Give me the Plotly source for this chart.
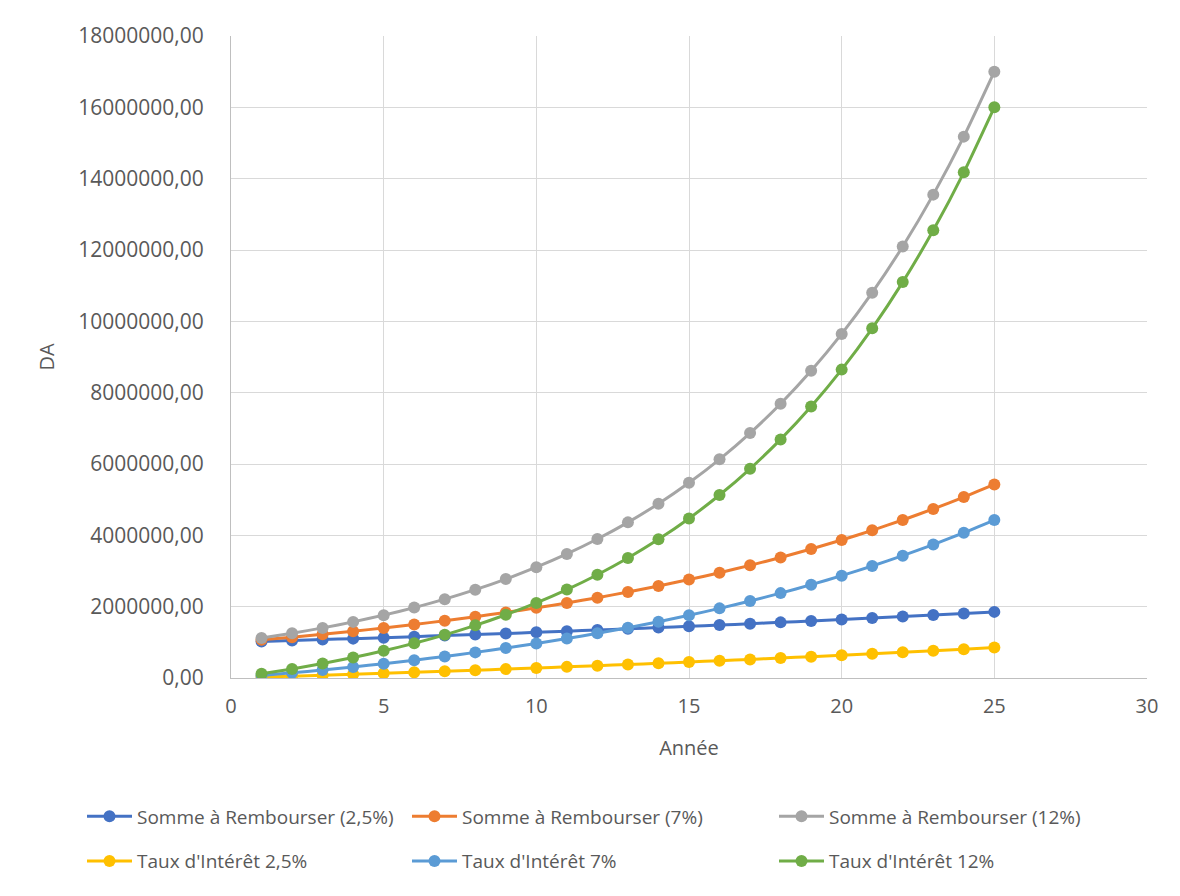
import plotly.graph_objects as go

annees = list(range(1, 26))

somme_2_5 = [1025000, 1050625, 1076891, 1103813, 1131408, 1159693, 1188686, 1218403, 1248863, 1280085,
             1312087, 1344889, 1378511, 1412974, 1448298, 1484506, 1521618, 1559659, 1598650, 1638616,
             1679582, 1721571, 1764611, 1808726, 1853944]
somme_7 = [1070000, 1144900, 1225043, 1310796, 1402552, 1500730, 1605781, 1718186, 1838459, 1967151,
           2104852, 2252192, 2409845, 2578534, 2759032, 2952164, 3158815, 3379932, 3616528, 3869684,
           4140562, 4430402, 4740530, 5072367, 5427433]
somme_12 = [1120000, 1254400, 1404928, 1573519, 1762342, 1973823, 2210681, 2475963, 2773079, 3105848,
            3478550, 3895976, 4363493, 4887112, 5473566, 6130394, 6866041, 7689966, 8612762, 9646293,
            10803848, 12100310, 13552347, 15178629, 17000064]
interet_2_5 = [25000, 50625, 76891, 103813, 131408, 159693, 188686, 218403, 248863, 280085,
               312087, 344889, 378511, 412974, 448298, 484506, 521618, 559659, 598650, 638616,
               679582, 721571, 764611, 808726, 853944]
interet_7 = [70000, 144900, 225043, 310796, 402552, 500730, 605781, 718186, 838459, 967151,
             1104852, 1252192, 1409845, 1578534, 1759032, 1952164, 2158815, 2379932, 2616528, 2869684,
             3140562, 3430402, 3740530, 4072367, 4427433]
interet_12 = [120000, 254400, 404928, 573519, 762342, 973823, 1210681, 1475963, 1773079, 2105848,
              2478550, 2895976, 3363493, 3887112, 4473566, 5130394, 5866041, 6689966, 7612762, 8646293,
              9803848, 11100310, 12552347, 14178629, 16000064]

y_tickvals = [0, 2000000, 4000000, 6000000, 8000000, 10000000, 12000000, 14000000, 16000000, 18000000]
y_ticktext = ["0,00", "2000000,00", "4000000,00", "6000000,00", "8000000,00", "10000000,00",
              "12000000,00", "14000000,00", "16000000,00", "18000000,00"]
x_tickvals = [0, 5, 10, 15, 20, 25, 30]

series = [
    ("Somme à Rembourser (2,5%)", somme_2_5, "#4472C4", "legend"),
    ("Somme à Rembourser (7%)", somme_7, "#ED7D31", "legend2"),
    ("Somme à Rembourser (12%)", somme_12, "#A5A5A5", "legend3"),
    ("Taux d'Intérêt 2,5%", interet_2_5, "#FFC000", "legend"),
    ("Taux d'Intérêt 7%", interet_7, "#5B9BD5", "legend2"),
    ("Taux d'Intérêt 12%", interet_12, "#70AD47", "legend3"),
]

FONT = "Open Sans"
TXT = "#595959"

fig = go.Figure()
for name, vals, col, lg in series:
    fig.add_trace(go.Scatter(
        x=annees, y=vals, name=name, mode="lines+markers",
        line=dict(color=col, width=3, shape="spline", smoothing=0.6),
        marker=dict(color=col, size=12),
        legend=lg, legendgroup=name,
    ))

OFF = 8  # page body margin
W, H = 1180, 896
L, T = 231 - OFF, 36 - OFF
pw, ph = 1147 - 231, 678 - 36
R, B = W - L - pw, H - T - ph

def px_x(p):
    return (p - OFF - L) / pw

def px_y(p):
    return (T + ph - (p - OFF)) / ph

legend_common = dict(
    orientation="v", xanchor="left", yanchor="middle",
    font=dict(family=FONT, size=19, color=TXT),
    bgcolor="rgba(0,0,0,0)", tracegroupgap=17, itemwidth=45,
)

fig.update_layout(
    width=W, height=H,
    margin=dict(l=L, r=R, t=T, b=B),
    paper_bgcolor="white", plot_bgcolor="white",
    font=dict(family=FONT, color=TXT, size=19),
    showlegend=True,
    legend=dict(x=px_x(82), y=px_y(839), **legend_common),
    legend2=dict(x=px_x(407), y=px_y(839), **legend_common),
    legend3=dict(x=px_x(774), y=px_y(839), **legend_common),
    xaxis=dict(
        range=[0, 30], tickvals=x_tickvals, showgrid=True, gridcolor="#D9D9D9", gridwidth=1,
        showline=True, linecolor="#BFBFBF", linewidth=1, zeroline=False,
        ticks="", ticklabelstandoff=10,
        tickfont=dict(family=FONT, size=20, color=TXT),
        title=dict(text="Année", font=dict(family=FONT, size=20, color=TXT), standoff=22),
    ),
    yaxis=dict(
        range=[0, 18000000], tickvals=y_tickvals, ticktext=y_ticktext, showgrid=True,
        gridcolor="#D9D9D9", gridwidth=1,
        showline=True, linecolor="#BFBFBF", linewidth=1, zeroline=False,
        ticks="", ticklabelstandoff=22,
        tickfont=dict(family=FONT, size=21, color=TXT),
        title=dict(text="DA", font=dict(family=FONT, size=20, color=TXT), standoff=18),
    ),
)

fig.write_html("out.html")
